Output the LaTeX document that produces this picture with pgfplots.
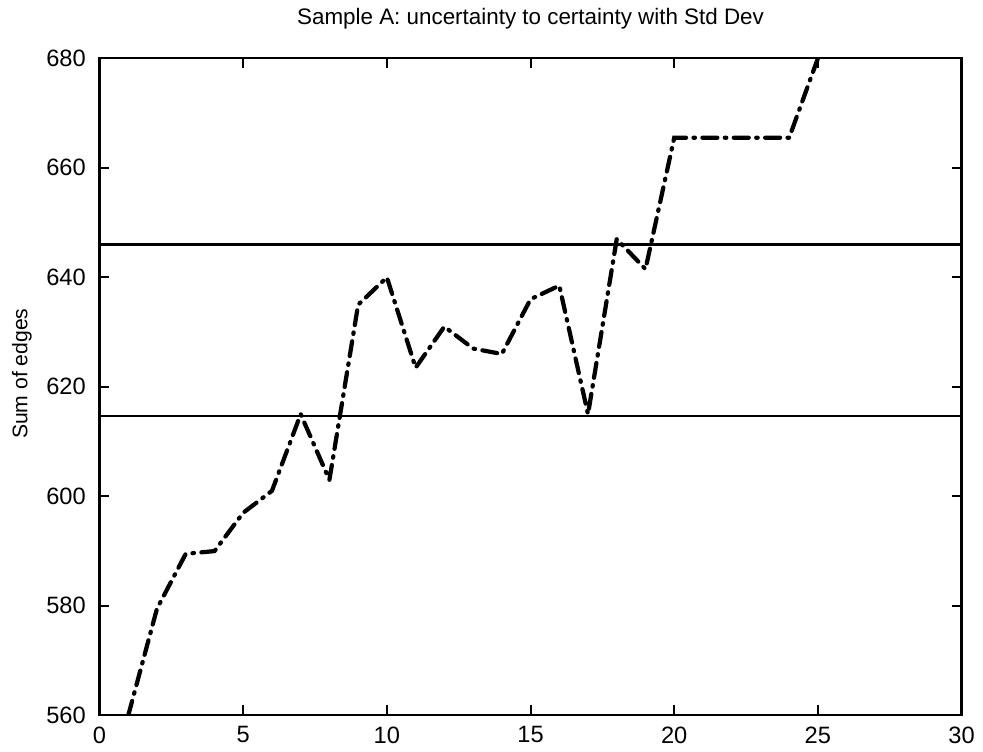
\documentclass[border=0pt]{standalone}
\usepackage{pgfplots}
\pgfplotsset{compat=1.18}
\usepackage{fontspec}
\setmainfont{Liberation Sans}
\usetikzlibrary{calc}

\begin{document}
\begin{tikzpicture}
\begin{axis}[
    name=ax,
    scale only axis,
    width=346.4pt, height=264pt,
    xmin=0, xmax=30, ymin=560, ymax=680,
    xtick={0,5,...,30},
    ytick={560,580,...,680},
    tick align=inside,
    major tick length=4pt,
    axis line style={line width=0.9pt},
    every tick/.style={black, line width=0.8pt},
    /pgf/number format/assume math mode=true,
    ticklabel style={font=\fontsize{9.5}{11}\selectfont},
    xticklabel style={yshift=-1pt},
    yticklabel style={xshift=-2pt},
    ylabel={Sum of edges},
    ylabel style={font=\fontsize{8.5}{10}\selectfont, at={(axis description cs:-0.09,0.52)}, anchor=center},
    title={Sample A: uncertainty to certainty with Std Dev},
    title style={font=\fontsize{9}{11}\selectfont, at={(axis description cs:0.5,1)}, anchor=base, yshift=7.6pt},
    clip=true,
]
% the two standard-deviation limits
\addplot[black, line width=0.9pt] coordinates {(0,646) (30,646)};
\addplot[black, line width=0.9pt] coordinates {(0,614.7) (30,614.7)};
% sum of edges
\addplot[black, line width=1.7pt, line cap=round,
    dash pattern=on 6pt off 3pt on 0.6pt off 3pt] coordinates {
    (1,560) (2,579.5) (3,589.5) (4,590) (5,597) (6,601) (7,615) (8,603)
    (9,635) (10,640) (11,623.5) (12,631) (13,627) (14,626) (15,636)
    (16,638.5) (17,615) (18,647) (19,641.5) (20,665.5) (21,665.5)
    (22,665.5) (23,665.5) (24,665.5) (25,680)
};
\end{axis}
\path ($(ax.south west)+(-40pt,-14pt)$) rectangle ($(ax.north east)+(6.8pt,20.8pt)$);
\end{tikzpicture}
\end{document}
